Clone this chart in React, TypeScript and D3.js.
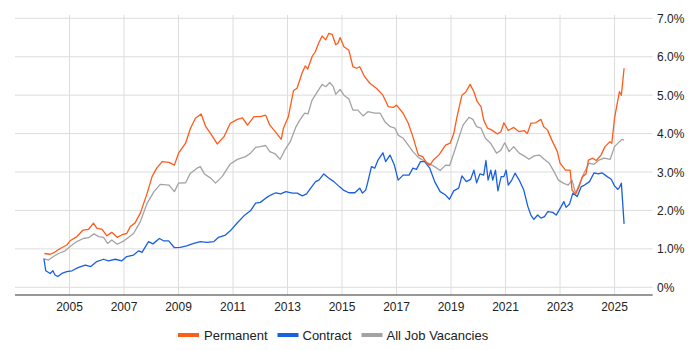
import React from "react";
import * as d3 from "d3";

const yTicks = [0, 1, 2, 3, 4, 5, 6, 7];
const xTicks = [2005, 2007, 2009, 2011, 2013, 2015, 2017, 2019, 2021, 2023, 2025];
const seriesNames = ["Permanent", "Contract", "All Job Vacancies"];

const permDates = [2004.08, 2004.29, 2004.45, 2004.66, 2004.9, 2005.02, 2005.27, 2005.5, 2005.7, 2005.88, 2006.0, 2006.2, 2006.37, 2006.55, 2006.75, 2006.97, 2007.1, 2007.23, 2007.4, 2007.6, 2007.85, 2008.03, 2008.2, 2008.4, 2008.65, 2008.85, 2009.0, 2009.26, 2009.44, 2009.62, 2009.83, 2010.0, 2010.18, 2010.42, 2010.67, 2010.9, 2011.16, 2011.35, 2011.53, 2011.77, 2012.0, 2012.2, 2012.35, 2012.55, 2012.77, 2012.85, 2013.03, 2013.22, 2013.35, 2013.53, 2013.65, 2013.74, 2013.9, 2014.02, 2014.14, 2014.27, 2014.4, 2014.52, 2014.64, 2014.77, 2014.85, 2014.93, 2015.07, 2015.25, 2015.4, 2015.53, 2015.65, 2015.83, 2016.02, 2016.26, 2016.5, 2016.7, 2016.88, 2017.0, 2017.24, 2017.43, 2017.6, 2017.8, 2017.96, 2018.1, 2018.22, 2018.35, 2018.55, 2018.8, 2018.97, 2019.1, 2019.22, 2019.4, 2019.53, 2019.7, 2019.84, 2019.96, 2020.1, 2020.2, 2020.34, 2020.5, 2020.7, 2020.83, 2020.94, 2021.1, 2021.3, 2021.5, 2021.68, 2021.8, 2021.93, 2022.1, 2022.3, 2022.4, 2022.54, 2022.7, 2022.9, 2023.0, 2023.2, 2023.37, 2023.44, 2023.57, 2023.7, 2023.82, 2023.95, 2024.04, 2024.2, 2024.33, 2024.5, 2024.65, 2024.83, 2024.9, 2025.0, 2025.1, 2025.18, 2025.25, 2025.35];
const permValues = [0.88, 0.86, 0.91, 1.01, 1.1, 1.21, 1.32, 1.49, 1.51, 1.67, 1.54, 1.51, 1.34, 1.43, 1.3, 1.38, 1.4, 1.58, 1.67, 1.93, 2.45, 2.88, 3.1, 3.27, 3.25, 3.18, 3.49, 3.75, 4.14, 4.4, 4.51, 4.18, 4.0, 3.73, 3.92, 4.27, 4.37, 4.41, 4.22, 4.44, 4.44, 4.48, 4.22, 4.05, 3.85, 4.14, 4.44, 5.12, 5.18, 5.57, 5.76, 5.68, 6.0, 6.13, 6.35, 6.54, 6.44, 6.61, 6.58, 6.31, 6.35, 6.5, 6.26, 6.17, 5.74, 5.7, 5.74, 5.48, 5.31, 5.18, 5.0, 4.7, 4.68, 4.74, 4.53, 4.27, 3.92, 3.44, 3.4, 3.23, 3.18, 3.31, 3.44, 3.7, 3.75, 4.0, 4.44, 5.0, 5.07, 5.28, 5.09, 4.83, 4.7, 4.35, 4.14, 4.09, 3.99, 4.05, 4.28, 4.08, 4.16, 4.05, 4.08, 4.0, 4.27, 4.28, 4.37, 4.18, 4.09, 3.83, 3.53, 3.23, 3.05, 3.05, 2.53, 2.42, 2.62, 2.88, 2.95, 3.31, 3.36, 3.3, 3.44, 3.66, 3.79, 3.75, 4.4, 4.79, 5.09, 5.0, 5.7];

const contDates = [2004.06, 2004.13, 2004.29, 2004.39, 2004.47, 2004.57, 2004.72, 2004.9, 2005.09, 2005.33, 2005.58, 2005.78, 2006.0, 2006.25, 2006.43, 2006.68, 2006.92, 2007.1, 2007.35, 2007.54, 2007.66, 2007.9, 2008.06, 2008.3, 2008.45, 2008.64, 2008.85, 2009.06, 2009.3, 2009.56, 2009.8, 2010.04, 2010.3, 2010.47, 2010.72, 2010.9, 2011.16, 2011.4, 2011.64, 2011.83, 2012.0, 2012.2, 2012.38, 2012.57, 2012.75, 2012.94, 2013.18, 2013.36, 2013.54, 2013.7, 2013.85, 2014.03, 2014.15, 2014.33, 2014.52, 2014.7, 2014.9, 2015.07, 2015.25, 2015.47, 2015.65, 2015.75, 2015.87, 2015.95, 2016.08, 2016.2, 2016.32, 2016.5, 2016.6, 2016.76, 2016.92, 2017.06, 2017.24, 2017.46, 2017.6, 2017.73, 2017.88, 2018.03, 2018.22, 2018.4, 2018.6, 2018.8, 2018.94, 2019.1, 2019.28, 2019.4, 2019.56, 2019.72, 2019.84, 2019.94, 2020.06, 2020.2, 2020.28, 2020.36, 2020.46, 2020.53, 2020.63, 2020.72, 2020.84, 2020.94, 2021.02, 2021.1, 2021.23, 2021.35, 2021.5, 2021.67, 2021.82, 2021.93, 2022.04, 2022.18, 2022.3, 2022.43, 2022.55, 2022.73, 2022.86, 2023.04, 2023.14, 2023.22, 2023.35, 2023.47, 2023.63, 2023.78, 2023.9, 2024.08, 2024.25, 2024.4, 2024.54, 2024.73, 2024.88, 2025.0, 2025.12, 2025.18, 2025.25, 2025.35];
const contValues = [0.75, 0.43, 0.36, 0.43, 0.32, 0.28, 0.36, 0.41, 0.43, 0.52, 0.58, 0.54, 0.67, 0.73, 0.69, 0.73, 0.69, 0.8, 0.84, 0.95, 0.91, 1.19, 1.13, 1.27, 1.21, 1.21, 1.03, 1.04, 1.08, 1.14, 1.19, 1.17, 1.19, 1.3, 1.36, 1.47, 1.68, 1.86, 1.99, 2.19, 2.21, 2.32, 2.4, 2.46, 2.43, 2.49, 2.45, 2.45, 2.38, 2.43, 2.58, 2.75, 2.79, 2.95, 2.84, 2.75, 2.62, 2.52, 2.46, 2.46, 2.58, 2.45, 2.53, 2.75, 3.14, 3.1, 3.31, 3.5, 3.27, 3.44, 3.18, 2.79, 2.92, 2.92, 3.1, 3.07, 3.27, 3.27, 3.1, 2.75, 2.49, 2.4, 2.29, 2.51, 2.58, 2.9, 2.75, 2.81, 3.05, 2.72, 2.95, 2.92, 3.3, 2.79, 3.05, 2.79, 3.05, 2.51, 2.88, 2.88, 3.05, 2.66, 2.79, 2.97, 2.79, 2.53, 2.1, 1.88, 1.77, 1.88, 1.8, 1.84, 1.97, 1.95, 1.88, 2.1, 2.23, 2.08, 2.17, 2.45, 2.36, 2.62, 2.66, 2.75, 2.98, 2.95, 2.98, 2.88, 2.81, 2.64, 2.55, 2.6, 2.71, 1.65];

const allDates = [2004.08, 2004.23, 2004.41, 2004.6, 2004.84, 2005.02, 2005.27, 2005.5, 2005.7, 2005.9, 2006.07, 2006.25, 2006.4, 2006.55, 2006.75, 2007.0, 2007.17, 2007.35, 2007.6, 2007.85, 2008.1, 2008.33, 2008.65, 2008.85, 2009.0, 2009.26, 2009.44, 2009.68, 2009.8, 2009.95, 2010.18, 2010.36, 2010.6, 2010.9, 2011.16, 2011.46, 2011.64, 2011.83, 2012.0, 2012.2, 2012.35, 2012.55, 2012.73, 2012.9, 2013.1, 2013.3, 2013.45, 2013.63, 2013.75, 2013.9, 2014.1, 2014.27, 2014.4, 2014.55, 2014.68, 2014.77, 2014.93, 2015.07, 2015.25, 2015.4, 2015.58, 2015.77, 2015.95, 2016.2, 2016.4, 2016.57, 2016.77, 2016.94, 2017.06, 2017.24, 2017.43, 2017.6, 2017.8, 2017.98, 2018.22, 2018.4, 2018.6, 2018.8, 2018.95, 2019.1, 2019.28, 2019.44, 2019.66, 2019.8, 2019.94, 2020.1, 2020.26, 2020.45, 2020.67, 2020.83, 2020.97, 2021.13, 2021.3, 2021.5, 2021.68, 2021.86, 2022.05, 2022.24, 2022.42, 2022.6, 2022.78, 2022.94, 2023.12, 2023.3, 2023.44, 2023.57, 2023.75, 2023.88, 2024.06, 2024.25, 2024.43, 2024.62, 2024.84, 2025.0, 2025.18, 2025.27, 2025.35];
const allValues = [0.74, 0.71, 0.8, 0.88, 0.95, 1.06, 1.19, 1.27, 1.29, 1.39, 1.32, 1.3, 1.14, 1.23, 1.12, 1.21, 1.3, 1.4, 1.71, 2.19, 2.49, 2.68, 2.66, 2.49, 2.71, 2.72, 2.97, 3.1, 3.14, 2.95, 2.84, 2.71, 2.88, 3.21, 3.33, 3.4, 3.49, 3.64, 3.66, 3.69, 3.53, 3.47, 3.33, 3.57, 3.79, 4.16, 4.35, 4.53, 4.51, 4.87, 5.09, 5.28, 5.22, 5.33, 5.22, 5.02, 5.15, 5.0, 4.9, 4.61, 4.61, 4.46, 4.57, 4.53, 4.53, 4.31, 4.18, 4.14, 3.96, 3.88, 3.7, 3.53, 3.38, 3.3, 3.21, 3.14, 3.04, 3.18, 3.17, 3.49, 3.88, 4.22, 4.42, 4.37, 4.18, 4.14, 3.88, 3.75, 3.49, 3.57, 3.76, 3.53, 3.66, 3.49, 3.42, 3.33, 3.42, 3.44, 3.33, 3.23, 3.01, 2.79, 2.71, 2.66, 2.79, 2.45, 2.75, 2.97, 3.23, 3.2, 3.31, 3.36, 3.33, 3.66, 3.79, 3.85, 3.83];

const colors = ["#ff5b1a", "#1a5fe0", "#a3a3a3"];

const W = 700;
const H = 350;
const left = 15;
const right = 652.7;
const top = 18.3;
const zero = 287.3;
const axisY = 295;

export default function App() {
  const x = d3.scaleLinear().domain([2003.0, 2026.4]).range([left, right]);
  const y = d3.scaleLinear().domain([0, 7]).range([zero, top]);
  const line = d3
    .line<[number, number]>()
    .x((d) => x(d[0]))
    .y((d) => y(d[1]))
    .curve(d3.curveLinear);

  const series = [
    { dates: permDates, values: permValues },
    { dates: contDates, values: contValues },
    { dates: allDates, values: allValues },
  ];
  const drawOrder = [2, 1, 0];

  const legendItems = [
    { sx: 178, tx: 204 },
    { sx: 277.5, tx: 302.5 },
    { sx: 361.5, tx: 386.5 },
  ];

  return (
    <svg
      width={W}
      height={H}
      style={{ position: "absolute", left: 0, top: 0, fontFamily: "Liberation Sans, Arial, sans-serif" }}
    >
      <rect width={W} height={H} fill="#fff" />
      {yTicks.map((t) => (
        <line key={"hy" + t} x1={left} x2={right} y1={y(t)} y2={y(t)} stroke="#dddddd" strokeWidth={1} />
      ))}
      {xTicks.map((t) => (
        <line key={"vx" + t} x1={x(t)} x2={x(t)} y1={15} y2={axisY} stroke="#dddddd" strokeWidth={1} />
      ))}
      {drawOrder.map((i) => (
        <path
          key={"s" + i}
          d={line(series[i].dates.map((d, j) => [d, series[i].values[j]] as [number, number])) || ""}
          fill="none"
          stroke={colors[i]}
          strokeWidth={1.3}
          strokeLinejoin="round"
        />
      ))}
      <line x1={left} x2={right} y1={axisY} y2={axisY} stroke="#333" strokeWidth={1} />
      {xTicks.map((t) => (
        <text key={"xl" + t} x={x(t)} y={311} textAnchor="middle" fontSize={12} fill="#222">
          {t}
        </text>
      ))}
      {yTicks.map((t) => (
        <text key={"yl" + t} x={657} y={y(t) + 4.5} textAnchor="start" fontSize={12} fill="#222">
          {t === 0 ? "0%" : t.toFixed(1) + "%"}
        </text>
      ))}
      {seriesNames.map((n, i) => (
        <g key={"lg" + i}>
          <line x1={legendItems[i].sx} x2={legendItems[i].sx + 21} y1={335} y2={335} stroke={colors[i]} strokeWidth={4} />
          <text x={legendItems[i].tx} y={339.5} fontSize={13} fill="#222">
            {n}
          </text>
        </g>
      ))}
    </svg>
  );
}
